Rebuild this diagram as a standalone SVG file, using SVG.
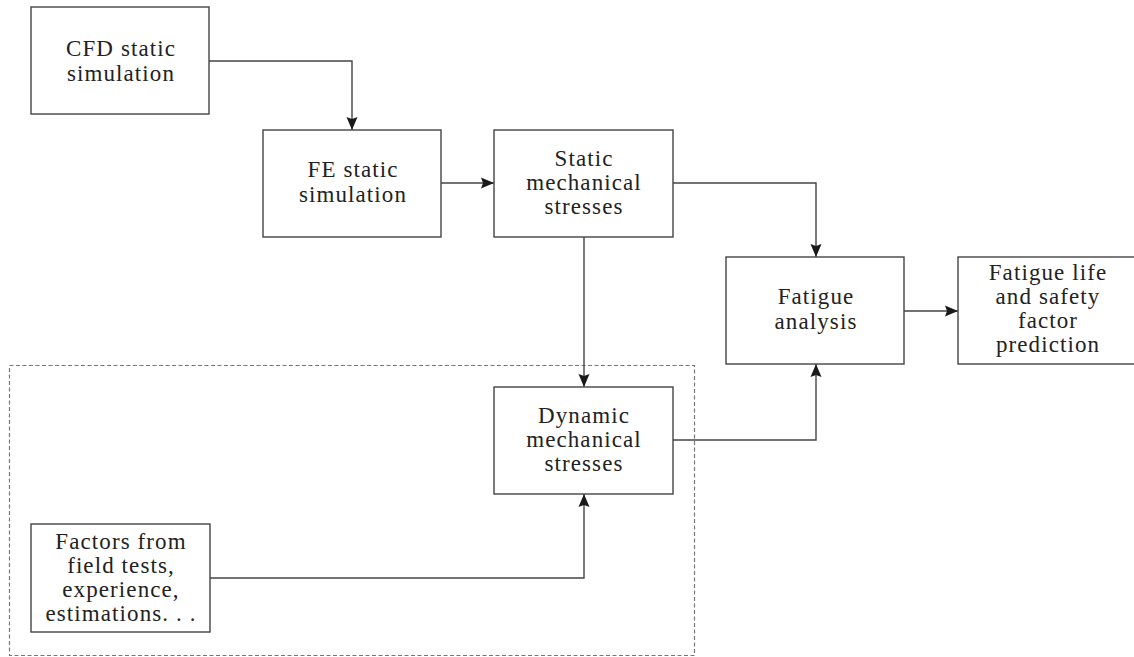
<svg xmlns="http://www.w3.org/2000/svg" width="1134" height="657" viewBox="0 0 1134 657">
<style>
.box{fill:#fff;stroke:#444;stroke-width:1.4}
.t{font-family:'Liberation Serif','Times New Roman',serif;font-size:23px;letter-spacing:1.1px;fill:#222;text-anchor:middle}
.c{fill:none;stroke:#444;stroke-width:1.4}
.dash{fill:none;stroke:#777;stroke-width:1.2;stroke-dasharray:4 2.5}
</style>
<defs>
<marker id="ah" markerWidth="14" markerHeight="14" refX="13" refY="6" orient="auto" markerUnits="userSpaceOnUse">
<path d="M0,0.5 L13,6 L0,11.5 L2,6 Z" fill="#1a1a1a"/>
</marker>
</defs>
<rect class="dash" x="9.5" y="365.5" width="685" height="290"/>
<g id="connectors">
<polyline class="c" points="209,61 352,61 352,130" marker-end="url(#ah)"/>
<line class="c" x1="441" y1="183" x2="494" y2="183" marker-end="url(#ah)"/>
<polyline class="c" points="673,183 816,183 816,257" marker-end="url(#ah)"/>
<line class="c" x1="584" y1="237" x2="584" y2="387" marker-end="url(#ah)"/>
<line class="c" x1="904" y1="311" x2="958" y2="311" marker-end="url(#ah)"/>
<polyline class="c" points="673,440 816,440 816,364" marker-end="url(#ah)"/>
<polyline class="c" points="210,578 584,578 584,494" marker-end="url(#ah)"/>
</g>
<g id="cfd">
<rect class="box" x="31" y="7" width="178" height="107"/>
<text class="t" x="121" y="56">CFD static</text>
<text class="t" x="121" y="81">simulation</text>
</g>
<g id="fe">
<rect class="box" x="263" y="130" width="178" height="107"/>
<text class="t" x="353" y="177">FE static</text>
<text class="t" x="353" y="202">simulation</text>
</g>
<g id="static">
<rect class="box" x="494" y="130" width="179" height="107"/>
<text class="t" x="584" y="166">Static</text>
<text class="t" x="584" y="190">mechanical</text>
<text class="t" x="584" y="214">stresses</text>
</g>
<g id="fatigue">
<rect class="box" x="726" y="257" width="178" height="107"/>
<text class="t" x="816" y="304">Fatigue</text>
<text class="t" x="816" y="329">analysis</text>
</g>
<g id="life">
<rect class="box" x="958" y="257" width="180" height="107"/>
<text class="t" x="1048" y="280">Fatigue life</text>
<text class="t" x="1048" y="304">and safety</text>
<text class="t" x="1048" y="328">factor</text>
<text class="t" x="1048" y="352">prediction</text>
</g>
<g id="dynamic">
<rect class="box" x="494" y="387" width="179" height="107"/>
<text class="t" x="584" y="423">Dynamic</text>
<text class="t" x="584" y="447">mechanical</text>
<text class="t" x="584" y="471">stresses</text>
</g>
<g id="factors">
<rect class="box" x="31" y="524" width="179" height="108"/>
<text class="t" x="121" y="549">Factors from</text>
<text class="t" x="121" y="573">field tests,</text>
<text class="t" x="121" y="597">experience,</text>
<text class="t" x="121" y="621">estimations. . .</text>
</g>
</svg>
